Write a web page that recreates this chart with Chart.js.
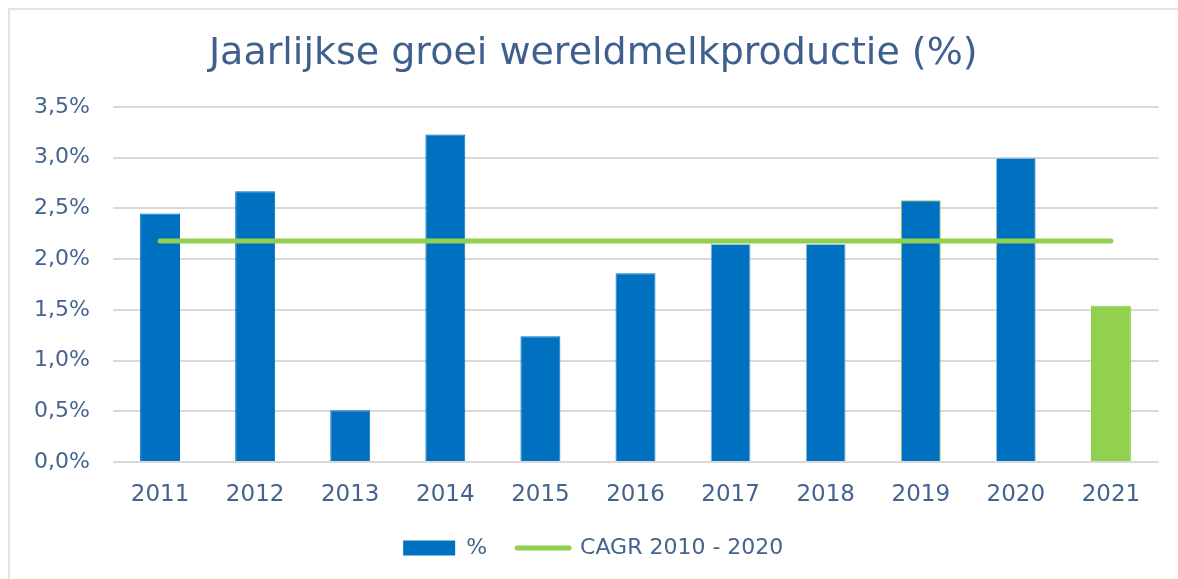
<!DOCTYPE html>
<html>
<head>
<meta charset="utf-8">
<script src="https://cdn.jsdelivr.net/npm/chart.js@4"></script>
<style>
  html, body { margin: 0; padding: 0; background: #ffffff; overflow: hidden; }
  #wrap { position: relative; width: 1178px; height: 579px; overflow: hidden; }
  #chart { position: absolute; left: 0; top: 0; }
  .edge { position: absolute; background: #e3e3e3; pointer-events: none; }
  #edgeTop { left: 8px; top: 8px; width: 1170px; height: 2px; }
  #edgeLeft { left: 8px; top: 8px; width: 2px; height: 571px; }
</style>
</head>
<body>
<div id="wrap">
  <canvas id="chart" width="1178" height="579"></canvas>
  <div class="edge" id="edgeTop"></div>
  <div class="edge" id="edgeLeft"></div>
</div>
<script>
// Data
const years = ['2011', '2012', '2013', '2014', '2015', '2016', '2017', '2018', '2019', '2020', '2021'];
const growth = [2.45, 2.67, 0.51, 3.23, 1.24, 1.86, 2.15, 2.15, 2.58, 3.00, 1.54];
const cagrValue = 2.18;
const cagr = years.map(() => cagrValue);
const yTicks = [0, 0.5, 1, 1.5, 2, 2.5, 3, 3.5];

const blue = '#0070c0';
const green = '#92d050';
const lightBlue = '#9dc3e6';
const textColor = '#44648f';

// 2021 is shown in green; a few bars carry a thin coloured outline
const barColors = years.map(y => (y === '2021' ? green : blue));
const barBorders = years.map(y => {
    if (y === '2019') return green;
    if (y === '2017' || y === '2018' || y === '2020') return lightBlue;
    return y === '2021' ? green : blue;
});

const fmt = v => v.toFixed(1).replace('.', ',') + '%';

const ctx = document.getElementById('chart').getContext('2d');
new Chart(ctx, {
    data: {
        labels: years,
        datasets: [
            {
                type: 'bar',
                label: '%',
                data: growth,
                backgroundColor: barColors,
                borderColor: barBorders,
                borderWidth: 1,
                categoryPercentage: 1,
                barPercentage: 0.42,
                order: 1
            },
            {
                type: 'line',
                label: 'CAGR 2010 - 2020',
                data: cagr,
                borderColor: green,
                borderWidth: 5,
                borderCapStyle: 'round',
                pointRadius: 0,
                fill: false,
                order: 0
            }
        ]
    },
    options: {
        responsive: false,
        animation: false,
        layout: { padding: { left: 28, right: 19.5, top: 0, bottom: 10 } },
        plugins: {
            title: {
                display: true,
                text: 'Jaarlijkse groei wereldmelkproductie (%)',
                color: '#3f5f8f',
                font: { family: 'DejaVu Sans', size: 38, weight: 'normal', lineHeight: 1.2 },
                padding: { top: 31.8, bottom: 29.6 }
            },
            legend: {
                position: 'bottom',
                maxHeight: 63,
                labels: {
                    color: textColor,
                    font: { family: 'DejaVu Sans', size: 22 },
                    usePointStyle: true,
                    pointStyleWidth: 52,
                    boxHeight: 15,
                    padding: 30,
                    generateLabels: () => [
                        { text: '%', fillStyle: blue, strokeStyle: blue, lineWidth: 0, pointStyle: 'rect', fontColor: textColor, datasetIndex: 0 },
                        { text: 'CAGR 2010 - 2020', fillStyle: green, strokeStyle: green, lineWidth: 5, lineCap: 'round', pointStyle: 'line', fontColor: textColor, datasetIndex: 1 }
                    ]
                }
            },
            tooltip: { enabled: false }
        },
        scales: {
            x: {
                grid: { display: false, drawTicks: false },
                border: { display: false },
                ticks: {
                    color: textColor,
                    font: { family: 'DejaVu Sans', size: 23 },
                    padding: 19
                },
                afterFit: scale => { scale.height = 45; }
            },
            y: {
                min: 0,
                max: 3.5,
                grid: { color: '#d9d9d9', lineWidth: 2, drawTicks: false },
                border: { display: false },
                afterBuildTicks: scale => { scale.ticks = yTicks.map(v => ({ value: v })); },
                ticks: {
                    color: textColor,
                    font: { family: 'DejaVu Sans', size: 22 },
                    padding: 22.5,
                    callback: v => fmt(v)
                },
                afterFit: scale => { scale.width = 84.5; }
            }
        }
    }
});
</script>
</body>
</html>
